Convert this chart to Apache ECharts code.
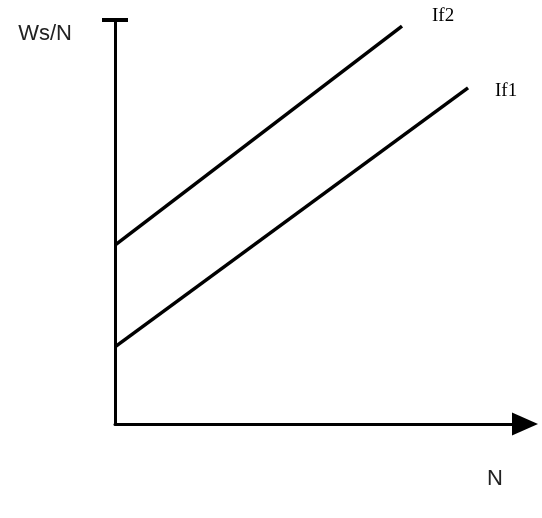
<!DOCTYPE html>
<html>
<head>
<meta charset="utf-8">
<script src="https://cdn.jsdelivr.net/npm/echarts@6/dist/echarts.min.js"></script>
<style>html,body{margin:0;padding:0;background:#fff}#c{width:542px;height:518px}</style>
</head>
<body>
<div id="c"></div>
<script>
var seriesNames = ['If2', 'If1'];
var if2X = [0, 70.0];
var if2Y = [44.3, 98.5];
var if1X = [0, 86.1];
var if1Y = [19.1, 83.2];
var xName = 'N';
var yName = 'Ws/N';

function pairs(xs, ys) { return xs.map(function (x, i) { return [x, ys[i]]; }); }

var chart = echarts.init(document.getElementById('c'), null, {renderer: 'canvas'});
var lineStyle = {color: '#000', width: 3.5};
chart.setOption({
  animation: false,
  grid: {left: 115, right: 17, top: 20, bottom: 94},
  xAxis: {
    type: 'value', min: 0, max: 100,
    name: xName, nameLocation: 'end', nameGap: -38,
    nameTextStyle: {fontFamily: 'Liberation Sans', fontSize: 22, color: '#222', align: 'left', verticalAlign: 'top', padding: [44, 0, 0, 0]},
    axisLine: {show: true, lineStyle: {color: '#000', width: 3}, symbol: ['none', 'triangle'], symbolSize: [23, 26]},
    axisTick: {show: false}, axisLabel: {show: false}, splitLine: {show: false}
  },
  yAxis: {
    type: 'value', min: 0, max: 100,
    name: yName, nameLocation: 'end', nameGap: -14,
    nameTextStyle: {fontFamily: 'Liberation Sans', fontSize: 22, color: '#222', align: 'right', verticalAlign: 'middle', padding: [0, 43, 0, 0]},
    axisLine: {show: true, onZero: false, lineStyle: {color: '#000', width: 3}, symbol: ['none', 'rect'], symbolSize: [26, 4]},
    axisTick: {show: false}, axisLabel: {show: false}, splitLine: {show: false}
  },
  series: [
    {name: seriesNames[0], type: 'line', data: pairs(if2X, if2Y), symbol: 'none', lineStyle: lineStyle,
     endLabel: {show: true, formatter: '{a}', distance: 0, offset: [30, -10], fontFamily: 'Liberation Serif', fontSize: 19, color: '#000'}},
    {name: seriesNames[1], type: 'line', data: pairs(if1X, if1Y), symbol: 'none', lineStyle: lineStyle,
     endLabel: {show: true, formatter: '{a}', distance: 0, offset: [27, 3], fontFamily: 'Liberation Serif', fontSize: 19, color: '#000'}}
  ]
});
</script>
</body>
</html>
